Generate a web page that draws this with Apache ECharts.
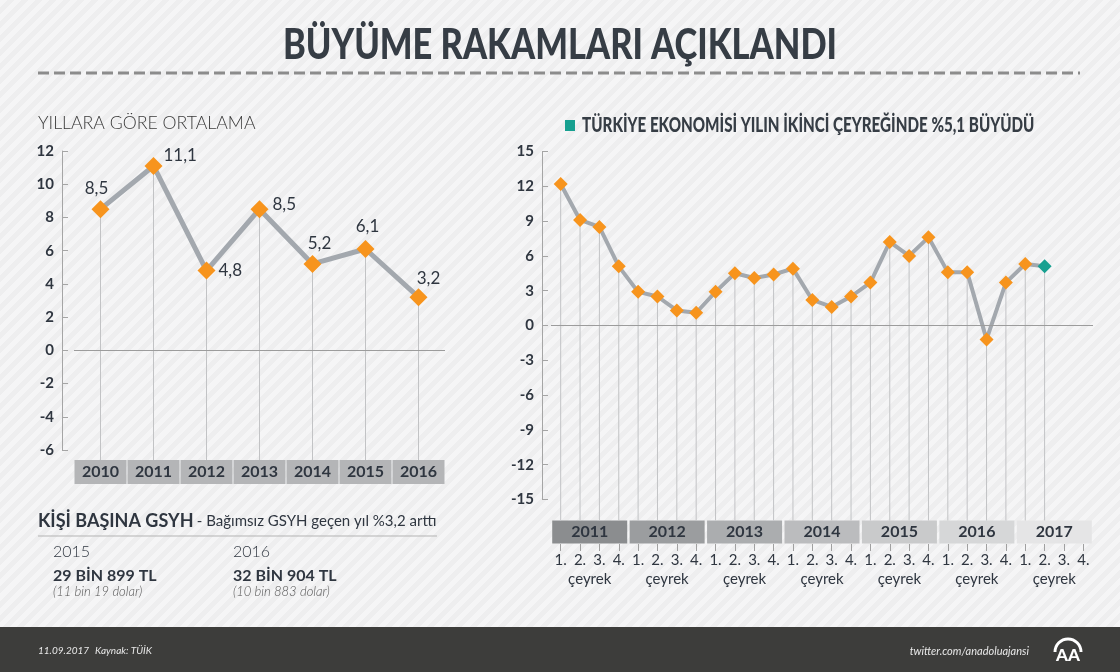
<!DOCTYPE html>
<html><head><meta charset="utf-8">
<script src="https://cdn.jsdelivr.net/npm/echarts@6/dist/echarts.min.js"></script>
<style>
html,body{margin:0;padding:0;}
body{width:1120px;height:672px;overflow:hidden;background:#f2f2f3 repeating-linear-gradient(135deg,#f5f5f6 0px,#f5f5f6 5px,#eeeeef 5px,#eeeeef 10px);}
#chart{width:1120px;height:672px;}
</style></head><body><div id="chart"></div>
<script>
// ---- data ----
const annualYears = ['2010', '2011', '2012', '2013', '2014', '2015', '2016'];
const annualGrowth = [8.5, 11.1, 4.8, 8.5, 5.2, 6.1, 3.2];
const quarterYears = ['2011', '2012', '2013', '2014', '2015', '2016', '2017'];
const quarterNames = ['1.', '2.', '3.', '4.'];
const quarterlyGrowth = [12.2, 9.1, 8.5, 5.1, 2.9, 2.5, 1.3, 1.1, 2.9, 4.5, 4.1, 4.4, 4.9,
  2.2, 1.6, 2.5, 3.7, 7.2, 6.0, 7.6, 4.6, 4.6, -1.2, 3.7, 5.3, 5.1];
const highlightIndex = 25; // 2017 Q2 (teal)

// ---- styles ----
const TXT = '#2f3640';
const FONT = 'Lato, "Open Sans", sans-serif';
const ORANGE = '#f7941d';
const TEAL = '#17a090';
const LINE = '#a3a8ae';
const bandColors = ['#8b8d8f', '#9b9d9f', '#abadaf', '#bbbcbe', '#c9cacb', '#d6d7d8', '#e5e5e6'];
const annualLabelStyle = [
  {position: 'top', distance: 3, offset: [-4, 0]},
  {position: 'right', distance: 1, offset: [0, -10]},
  {position: 'right', distance: 3, offset: [0, 0]},
  {position: 'right', distance: 4, offset: [0, -5]},
  {position: 'top', distance: 3, offset: [7, 0]},
  {position: 'top', distance: 5, offset: [2, 0]},
  {position: 'top', distance: 1, offset: [10, 0]}
];

const quarterCats = quarterYears.flatMap(y => quarterNames.map(q => y + '|' + q));

const rich = {};
bandColors.forEach((c, i) => {
  rich['y' + i] = {backgroundColor: c, width: 75, height: 23, lineHeight: 23, align: 'center',
    fontWeight: 'bold', fontSize: 16, color: TXT, fontFamily: FONT};
});

function dropLines(bottomGap) {
  return function (params, api) {
    const p = api.coord([api.value(0), api.value(1)]);
    const cs = params.coordSys;
    return {type: 'line', shape: {x1: p[0], y1: p[1], x2: p[0], y2: cs.y + cs.height + bottomGap},
      style: {stroke: '#c2c3c5', lineWidth: 1}, z2: 0};
  };
}

const yAxisCommon = {
  type: 'value', splitLine: {show: false},
  axisLine: {show: true, onZero: false, lineStyle: {color: '#a5a5a5', width: 1}},
  axisTick: {show: true, inside: true, length: 6, lineStyle: {color: '#a5a5a5'}},
  axisLabel: {color: TXT, fontWeight: 'bold', fontSize: 15, fontFamily: FONT, margin: 8}
};

const option = {
  backgroundColor: 'transparent',
  animation: false,
  grid: [
    {left: 74, top: 151, width: 371, height: 299, containLabel: false},
    {left: 551, top: 151.5, width: 542, height: 348, containLabel: false}
  ],
  xAxis: [
    {gridIndex: 0, type: 'category', data: annualYears, position: 'bottom',
      axisLine: {show: false, onZero: false}, axisTick: {show: false},
      axisLabel: {margin: 10, interval: 0, formatter: v => '{b|' + v + '}',
        rich: {b: {backgroundColor: '#b4b5b7', width: 52, height: 24, lineHeight: 24, align: 'center',
          fontWeight: 'bold', fontSize: 16, color: TXT, fontFamily: FONT}}}},
    {gridIndex: 1, type: 'category', data: quarterCats, position: 'bottom', offset: 44.5,
      axisLine: {show: false, onZero: false},
      axisTick: {show: true, alignWithLabel: true, interval: 0, length: 7, lineStyle: {color: '#a0a0a0'}},
      axisLabel: {margin: 9, interval: 0, formatter: v => v.split('|')[1], color: TXT, fontSize: 15, fontFamily: FONT}},
    {gridIndex: 1, type: 'category', data: quarterYears, position: 'bottom', offset: 0,
      axisLine: {show: false, onZero: false}, axisTick: {show: false},
      axisLabel: {margin: 21, interval: 0, formatter: (v, i) => '{y' + i + '|' + v + '}', rich: rich}},
    {gridIndex: 1, type: 'category', data: quarterYears, position: 'bottom', offset: 64,
      axisLine: {show: false, onZero: false}, axisTick: {show: false},
      axisLabel: {margin: 8, interval: 0, formatter: () => 'çeyrek', color: TXT, fontSize: 15, fontFamily: FONT}}
  ],
  yAxis: [
    Object.assign({}, yAxisCommon, {gridIndex: 0, min: -6, max: 12, interval: 2, offset: 12}),
    Object.assign({}, yAxisCommon, {gridIndex: 1, min: -15, max: 15, interval: 3, offset: 9})
  ],
  series: [
    {type: 'custom', xAxisIndex: 0, yAxisIndex: 0, renderItem: dropLines(10), silent: true, z: 1,
      data: annualGrowth.map((v, i) => [i, v])},
    {type: 'line', xAxisIndex: 0, yAxisIndex: 0, z: 3,
      data: annualGrowth.map((v, i) => ({value: v, label: annualLabelStyle[i]})),
      symbol: 'diamond', symbolSize: 18,
      itemStyle: {color: ORANGE},
      lineStyle: {color: LINE, width: 5},
      label: {show: true, color: TXT, fontSize: 17, fontFamily: FONT,
        formatter: p => String(p.value).replace('.', ',')},
      markLine: {silent: true, symbol: 'none', label: {show: false},
        lineStyle: {color: '#9c9c9c', width: 1, type: 'solid'}, data: [{yAxis: 0}]}},
    {type: 'custom', xAxisIndex: 1, yAxisIndex: 1, renderItem: dropLines(21), silent: true, z: 1,
      data: quarterlyGrowth.map((v, i) => [i, v])},
    {type: 'line', xAxisIndex: 1, yAxisIndex: 1, z: 3,
      data: quarterlyGrowth.map((v, i) => i === highlightIndex ? {value: v, itemStyle: {color: TEAL}} : v),
      symbol: 'diamond', symbolSize: 14,
      itemStyle: {color: ORANGE},
      lineStyle: {color: LINE, width: 4},
      markLine: {silent: true, symbol: 'none', label: {show: false},
        lineStyle: {color: '#9c9c9c', width: 1, type: 'solid'}, data: [{yAxis: 0}]}}
  ],
  graphic: [
    {type: 'text', x: 560, y: 45, scaleX: 0.82,
      style: {text: 'BÜYÜME RAKAMLARI AÇIKLANDI', textAlign: 'center', textVerticalAlign: 'middle',
        fill: '#363d45', font: '900 42px ' + FONT}},
    {type: 'line', shape: {x1: 38, y1: 73, x2: 1080, y2: 73},
      style: {stroke: '#8c8c8c', lineWidth: 3, lineDash: [11, 5]}},
    {type: 'text', x: 38, y: 124, scaleX: 1.04,
      style: {text: 'YILLARA GÖRE ORTALAMA', textVerticalAlign: 'middle', fill: '#3a3a3a',
        font: '300 17px ' + FONT}},
    {type: 'rect', shape: {x: 565, y: 120, width: 10, height: 11}, style: {fill: TEAL}},
    {type: 'text', x: 582, y: 126, scaleX: 0.76,
      style: {text: 'TÜRKİYE EKONOMİSİ YILIN İKİNCİ ÇEYREĞİNDE %5,1 BÜYÜDÜ', textVerticalAlign: 'middle',
        fill: '#363d45', font: '900 20px ' + FONT}},
    {type: 'text', x: 38, y: 521,
      style: {text: '{a|KİŞİ BAŞINA GSYH} {b|- Bağımsız GSYH geçen yıl %3,2 arttı}', textVerticalAlign: 'middle',
        rich: {a: {font: 'bold 18px ' + FONT, fill: TXT}, b: {font: '15px ' + FONT, fill: TXT}}}},
    {type: 'line', shape: {x1: 38, y1: 536, x2: 437, y2: 536}, style: {stroke: '#b3b3b3', lineWidth: 1}},
    {type: 'text', x: 53, y: 552, style: {text: '2015', textVerticalAlign: 'middle', fill: TXT, font: '300 16px ' + FONT}},
    {type: 'text', x: 53, y: 576, style: {text: '29 BİN 899 TL', textVerticalAlign: 'middle', fill: TXT, font: 'bold 16px ' + FONT}},
    {type: 'text', x: 53, y: 592, style: {text: '(11 bin 19 dolar)', textVerticalAlign: 'middle', fill: '#555', font: 'italic 300 13px ' + FONT}},
    {type: 'text', x: 233, y: 552, style: {text: '2016', textVerticalAlign: 'middle', fill: TXT, font: '300 16px ' + FONT}},
    {type: 'text', x: 233, y: 576, style: {text: '32 BİN 904 TL', textVerticalAlign: 'middle', fill: TXT, font: 'bold 16px ' + FONT}},
    {type: 'text', x: 233, y: 592, style: {text: '(10 bin 883 dolar)', textVerticalAlign: 'middle', fill: '#555', font: 'italic 300 13px ' + FONT}},
    {type: 'rect', shape: {x: 0, y: 627, width: 1120, height: 45}, style: {fill: '#3d3d3b'}},
    {type: 'text', x: 38, y: 651, style: {text: '11.09.2017', textVerticalAlign: 'middle', fill: '#e8e8e8', font: 'italic 10px ' + FONT}},
    {type: 'text', x: 95, y: 651, style: {text: 'Kaynak: TÜİK', textVerticalAlign: 'middle', fill: '#e8e8e8', font: 'italic 10px ' + FONT}},
    {type: 'text', x: 1029, y: 651, style: {text: 'twitter.com/anadoluajansi', textAlign: 'right', textVerticalAlign: 'middle', fill: '#e8e8e8', font: 'italic 11px ' + FONT}},
    {type: 'arc', shape: {cx: 1068, cy: 652, r: 13, startAngle: Math.PI, endAngle: 2 * Math.PI},
      style: {stroke: '#ffffff', lineWidth: 3, fill: null}},
    {type: 'text', x: 1068, y: 656, style: {text: 'AA', textAlign: 'center', textVerticalAlign: 'middle', fill: '#ffffff', font: '900 17px ' + FONT}}
  ]
};

const chart = echarts.init(document.getElementById('chart'), null, {renderer: 'canvas'});
chart.setOption(option);
</script>
</body></html>
